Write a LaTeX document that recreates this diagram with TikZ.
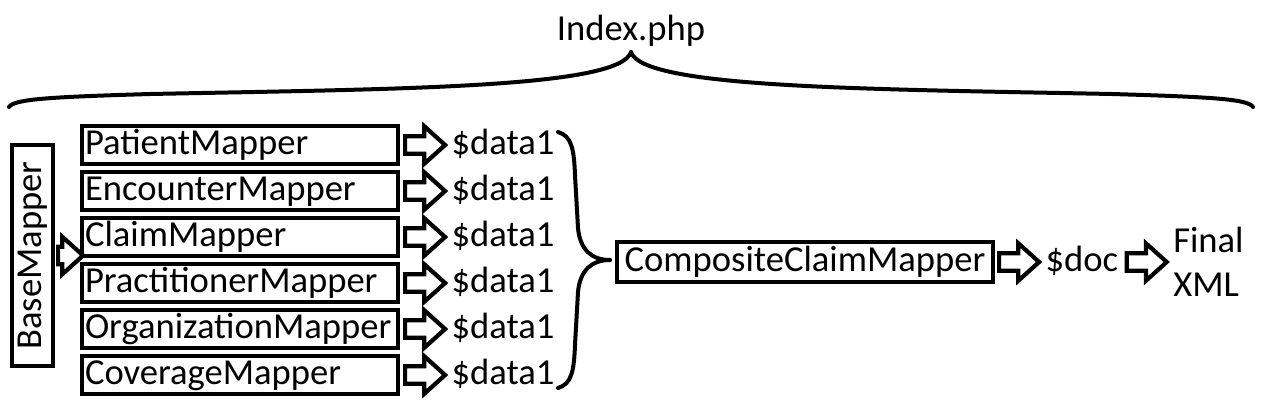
\documentclass[tikz,border=0pt]{standalone}
\usepackage{fontspec}
\setmainfont{Carlito}
\usetikzlibrary{positioning,shapes.arrows}

\begin{document}
\begin{tikzpicture}[
    x=0.5pt, y=-0.5pt,
    every node/.style={font=\fontsize{18.3pt}{21pt}\selectfont},
    % Style for the mapper boxes
    mapper/.style={draw, line width=2pt, minimum width=158pt, minimum height=19pt,
        text width=155pt, align=left, inner xsep=1.5pt, inner ysep=0pt,
        text height=13pt, text depth=4pt},
    % Style for the rotated base box
    basebox/.style={draw, line width=2pt, rotate=90, minimum width=110.5pt,
        minimum height=20.5pt, inner sep=1pt},
    % Style for the hollow block arrows
    fatarrow/.style={single arrow, draw, line width=2.1pt, minimum height=20pt,
        inner xsep=0pt, inner ysep=3.3pt, single arrow head extend=5pt,
        single arrow tip angle=84, text height=0pt, text depth=0pt},
    result/.style={inner sep=1pt, text height=13pt, text depth=4pt},
    brace/.style={line width=2pt, line cap=round}
]
    \useasboundingbox (0,0) rectangle (1265,408);

    % --- 1. Title and top brace ---
    \node[anchor=base] (index) at (631,40) {Index.php};

    \coordinate (tb left) at (9,107);
    \coordinate (tb tip) at (631,52);
    \coordinate (tb right) at (1253,107);

    \draw[brace] (tb left) .. controls (14,99) and (50,97) .. (150,94)
        .. controls (400,89) and (620,88) .. (tb tip);
    \draw[brace] (tb right) .. controls (1248,99) and (1212,97) .. (1112,94)
        .. controls (862,89) and (642,88) .. (tb tip);

    % --- 2. Base mapper ---
    \node[basebox] (base) at (32.5,255.5) {BaseMapper};
    \node[fatarrow, minimum height=12.5pt, right=0.5pt of base.south] (ba) {};

    % --- 3. Mapper boxes ---
    \node[mapper] (m1) at (240,145) {PatientMapper};
    \node[mapper] (m2) at (240,191) {EncounterMapper};
    \node[mapper] (m3) at (240,237) {ClaimMapper};
    \node[mapper] (m4) at (240,283) {PractitionerMapper};
    \node[mapper] (m5) at (240,329) {OrganizationMapper};
    \node[mapper] (m6) at (240,375) {CoverageMapper};

    % --- 4. Arrows and results ---
    \node[fatarrow, right=1.5pt of m1] (a1) {};
    \node[fatarrow, right=1.5pt of m2] (a2) {};
    \node[fatarrow, right=1.5pt of m3] (a3) {};
    \node[fatarrow, right=1.5pt of m4] (a4) {};
    \node[fatarrow, right=1.5pt of m5] (a5) {};
    \node[fatarrow, right=1.5pt of m6] (a6) {};

    \node[result, right=0.5pt of a1] (d1) {\$data1};
    \node[result, right=0.5pt of a2] (d2) {\$data1};
    \node[result, right=0.5pt of a3] (d3) {\$data1};
    \node[result, right=0.5pt of a4] (d4) {\$data1};
    \node[result, right=0.5pt of a5] (d5) {\$data1};
    \node[result, right=0.5pt of a6] (d6) {\$data1};

    % --- 5. Right brace ---
    \coordinate (rb top) at (558,132);
    \coordinate (rb tip) at (610,260);
    \coordinate (rb bottom) at (558,388);

    \draw[brace] (rb top) .. controls (572,136) and (574,150) .. (575,175)
        -- (578,228) .. controls (580,250) and (592,260) .. (rb tip);
    \draw[brace] (rb bottom) .. controls (572,384) and (574,370) .. (575,345)
        -- (578,292) .. controls (580,270) and (592,260) .. (rb tip);

    % --- 6. Composite mapper and output ---
    \node[draw, line width=2pt, minimum width=188pt, minimum height=20pt,
        inner sep=1pt, text height=13pt, text depth=4pt] (comp) at (805,262)
        {CompositeClaimMapper};
    \node[fatarrow, right=1pt of comp] (b1) {};
    \node[result, right=0.5pt of b1] (doc) {\$doc};
    \node[fatarrow, right=2pt of doc] (b2) {};
    \node[inner sep=1pt, align=left, right=0.5pt of b2] (final) {Final\\[1pt]XML};

\end{tikzpicture}
\end{document}
